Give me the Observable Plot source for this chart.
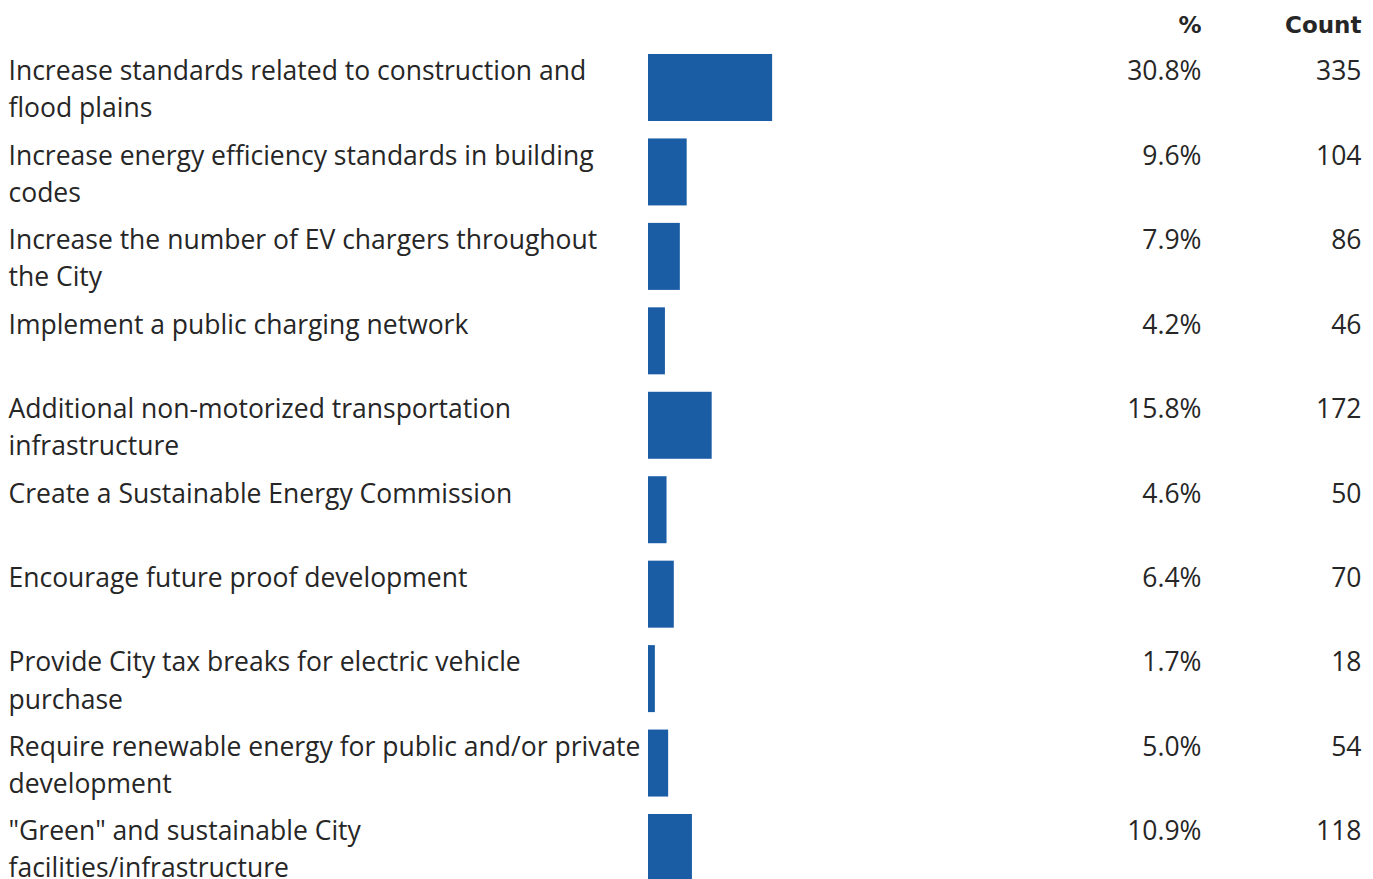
<!DOCTYPE html>
<html>
<head>
<meta charset="utf-8">
<script src="https://cdn.jsdelivr.net/npm/d3@7"></script>
<script src="https://cdn.jsdelivr.net/npm/@observablehq/plot@0.6"></script>
<style>
  html, body { margin: 0; padding: 0; background: #fff; }
  #chart svg { display: block; overflow: hidden; }
</style>
</head>
<body>
<div id="chart"></div>
<script>
const labels = [
  "Increase standards related to construction and\nflood plains",
  "Increase energy efficiency standards in building\ncodes",
  "Increase the number of EV chargers throughout\nthe City",
  "Implement a public charging network",
  "Additional non-motorized transportation\ninfrastructure",
  "Create a Sustainable Energy Commission",
  "Encourage future proof development",
  "Provide City tax breaks for electric vehicle\npurchase",
  "Require renewable energy for public and/or private\ndevelopment",
  "\"Green\" and sustainable City\nfacilities/infrastructure"
];
const percents = [30.8, 9.6, 7.9, 4.2, 15.8, 4.6, 6.4, 1.7, 5.0, 10.9];
const counts = [335, 104, 86, 46, 172, 50, 70, 18, 54, 118];
const headers = ["%", "Count"];

const rows = labels.map((label, i) => ({label, pct: percents[i], count: counts[i]}));

const textColor = "#262626";
const font = "Open Sans";
const fs = 26.5;
const lh = 1.4;

const chart = Plot.plot({
  width: 1373,
  height: 879,
  marginTop: 0, marginBottom: 0, marginLeft: 0, marginRight: 0,
  style: {fontFamily: font, background: "#fff"},
  x: {domain: [0, 100], range: [648, 1051], axis: null},
  y: {domain: labels, range: [54, 881], paddingInner: 0.2066, paddingOuter: 0, round: false, axis: null},
  marks: [
    Plot.barX(rows, {x: "pct", y: "label", fill: "#1B5DA5"}),
    Plot.text(rows, {y: "label", text: "label", frameAnchor: "left", textAnchor: "start", dx: 8,
      lineAnchor: "top", lineHeight: lh, dy: -34, fontSize: fs, fill: textColor}),
    Plot.text(rows, {y: "label", text: d => d.pct.toFixed(1) + "%", frameAnchor: "right", textAnchor: "end", dx: -172,
      lineAnchor: "top", lineHeight: lh, dy: -34, fontSize: fs, fill: textColor}),
    Plot.text(rows, {y: "label", text: d => String(d.count), frameAnchor: "right", textAnchor: "end", dx: -12,
      lineAnchor: "top", lineHeight: lh, dy: -34, fontSize: fs, fill: textColor}),
    Plot.text([headers[0]], {text: d => d, frameAnchor: "top-right", textAnchor: "end", lineAnchor: "top", dx: -172, dy: 16,
      fontSize: 23, fontWeight: "bold", fontFamily: "DejaVu Sans", fill: textColor}),
    Plot.text([headers[1]], {text: d => d, frameAnchor: "top-right", textAnchor: "end", lineAnchor: "top", dx: -12, dy: 16,
      fontSize: 23, fontWeight: "bold", fontFamily: "DejaVu Sans", fill: textColor})
  ]
});
document.getElementById("chart").appendChild(chart);
</script>
</body>
</html>
